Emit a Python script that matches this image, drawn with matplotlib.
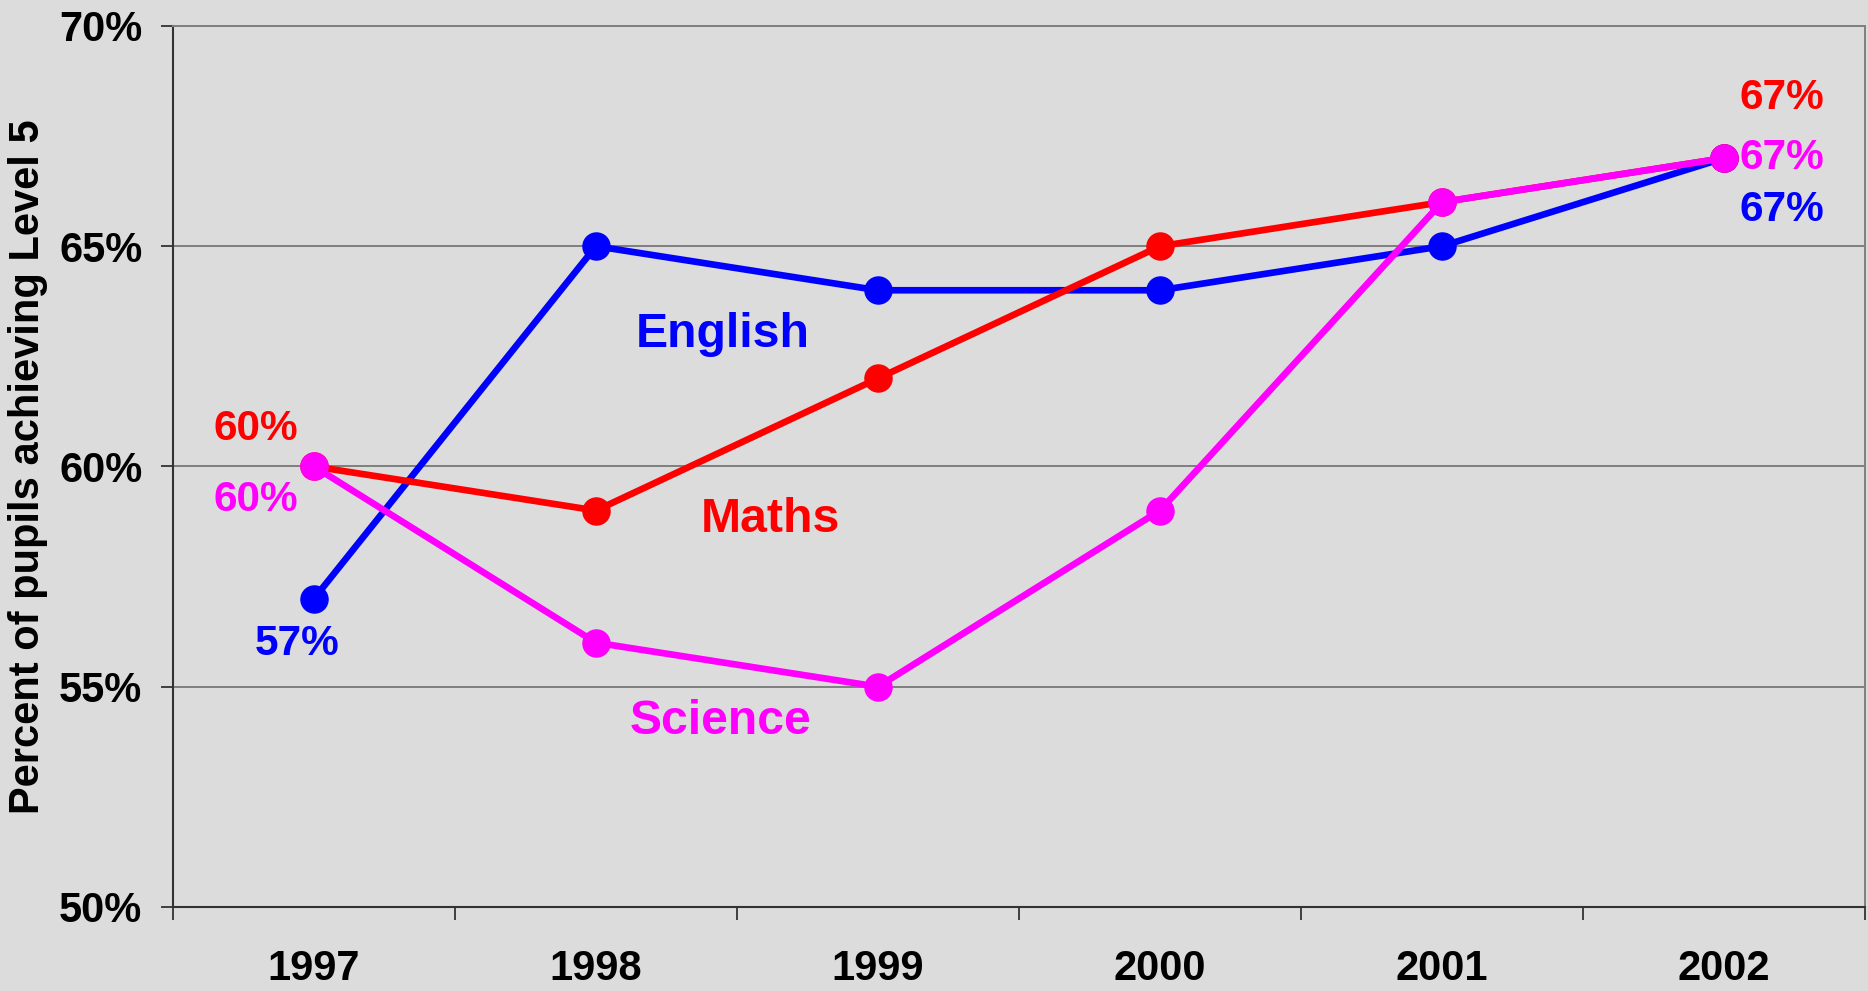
#!/usr/bin/env python3
"""Line chart: percent of pupils achieving Level 5, 1997-2002, by subject."""

import matplotlib

matplotlib.use("Agg")
import matplotlib.pyplot as plt
from matplotlib.ticker import FixedLocator, PercentFormatter

YEARS = ["1997", "1998", "1999", "2000", "2001", "2002"]
ENGLISH = [57, 65, 64, 64, 65, 67]
MATHS = [60, 59, 62, 65, 66, 67]
SCIENCE = [60, 56, 55, 59, 66, 67]

Y_TICKS = [50, 55, 60, 65, 70]

BG = "#dcdcdc"
FONT = "Liberation Sans"

plt.rcParams["font.family"] = [FONT, "DejaVu Sans"]
plt.rcParams["font.weight"] = "bold"

fig = plt.figure(figsize=(18.68, 9.91), dpi=100, facecolor=BG)
ax = fig.add_axes([0.0926, 0.0848, 0.9058, 0.889])
ax.set_facecolor(BG)

x = list(range(len(YEARS)))
series = [
    ("English", ENGLISH, "#0000ff"),
    ("Maths", MATHS, "#ff0000"),
    ("Science", SCIENCE, "#ff00ff"),
]

for z, (name, vals, color) in enumerate(series):
    ax.plot(x, vals, color=color, lw=4.8, marker="o", ms=19.5,
            solid_capstyle="round", zorder=3 + z, clip_on=False)

# value labels at the first and last year, offset in points from the marker
first_offsets = {"English": (-12, -33), "Maths": (-42, 27), "Science": (-42, -24)}
last_offsets = {"English": (42, -37), "Maths": (42, 43), "Science": (42, 0)}
for name, vals, color in series:
    for idx, offs in ((0, first_offsets), (-1, last_offsets)):
        ax.annotate(f"{vals[idx]}%", (x[idx], vals[idx]), xytext=offs[name],
                    textcoords="offset points", ha="center", va="center",
                    fontsize=30.5, fontweight="bold", color=color,
                    annotation_clip=False, zorder=10)

# series names placed near their lines
name_pos = {"English": (1.45, 63.0), "Maths": (1.62, 58.8), "Science": (1.44, 54.2)}
for name, vals, color in series:
    px, py = name_pos[name]
    ax.text(px, py, name, ha="center", va="center", fontsize=34.7,
            fontweight="bold", color=color, zorder=10)

ax.set_xlim(-0.5, len(YEARS) - 0.5)
ax.set_ylim(Y_TICKS[0], Y_TICKS[-1])

ax.set_xticks(x)
ax.set_xticklabels(YEARS)
ax.xaxis.set_minor_locator(FixedLocator([i - 0.5 for i in range(len(YEARS) + 1)]))
ax.tick_params(axis="x", which="major", length=0, pad=30, labelsize=30)
ax.tick_params(axis="x", which="minor", length=9, width=1.3, color="#333333",
               direction="out")

ax.set_yticks(Y_TICKS)
ax.yaxis.set_major_formatter(PercentFormatter(decimals=0))
ax.tick_params(axis="y", length=9, width=1.3, color="#333333", pad=13,
               labelsize=30, direction="out")
for lbl in ax.get_xticklabels() + ax.get_yticklabels():
    lbl.set_fontweight("bold")

ax.grid(axis="y", color="#7f7f7f", lw=1.4, zorder=1)
ax.set_axisbelow(True)

ax.spines["left"].set_color("#333333")
ax.spines["bottom"].set_color("#333333")
ax.spines["left"].set_linewidth(1.5)
ax.spines["bottom"].set_linewidth(1.5)
ax.spines["top"].set_color("#7f7f7f")
ax.spines["right"].set_color("#7f7f7f")
ax.spines["top"].set_linewidth(1.4)
ax.spines["right"].set_linewidth(1.4)

ax.set_ylabel("Percent of pupils achieving Level 5", fontsize=30,
              fontweight="bold")
ax.yaxis.set_label_coords(-0.074, 0.5)

fig.savefig("out.png", dpi=100, facecolor=BG)
